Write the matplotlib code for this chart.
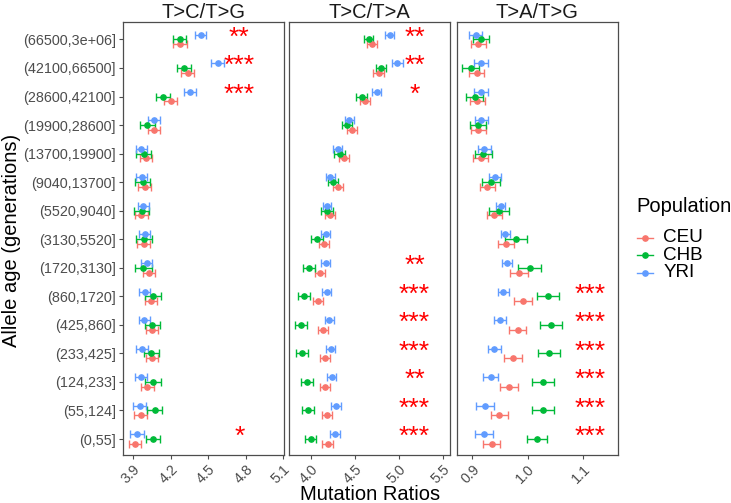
import matplotlib
matplotlib.use("Agg")
import matplotlib.pyplot as plt
from matplotlib.lines import Line2D
import numpy as np

plt.rcParams["font.family"] = ["Liberation Sans", "DejaVu Sans"]

# allele age bins, bottom to top
age_bins = ["(0,55]", "(55,124]", "(124,233]", "(233,425]", "(425,860]",
            "(860,1720]", "(1720,3130]", "(3130,5520]", "(5520,9040]",
            "(9040,13700]", "(13700,19900]", "(19900,28600]", "(28600,42100]",
            "(42100,66500]", "(66500,3e+06]"]

populations = ["CEU", "CHB", "YRI"]
pop_colors = {"CEU": "#F8766D", "CHB": "#00BA38", "YRI": "#619CFF"}

panel_titles = ["T>C/T>G", "T>C/T>A", "T>A/T>G"]

# T>C/T>G
tctg_ceu = [3.916, 3.961, 4.014, 4.052, 4.052, 4.046, 4.028, 3.985, 3.966, 3.993, 4.004, 4.068, 4.201, 4.337, 4.273]
tctg_chb = [4.060, 4.073, 4.060, 4.046, 4.052, 4.062, 3.982, 3.988, 3.969, 3.977, 3.985, 4.014, 4.142, 4.308, 4.273]
tctg_yri = [3.932, 3.953, 3.961, 3.969, 3.990, 3.993, 4.009, 3.993, 3.980, 3.969, 3.966, 4.068, 4.356, 4.577, 4.441]
tctg_ceu_err = [0.049, 0.050, 0.050, 0.050, 0.050, 0.047, 0.050, 0.050, 0.050, 0.050, 0.050, 0.050, 0.052, 0.052, 0.055]
tctg_chb_err = [0.057, 0.060, 0.065, 0.062, 0.060, 0.064, 0.067, 0.062, 0.062, 0.060, 0.060, 0.060, 0.055, 0.053, 0.053]
tctg_yri_err = [0.053, 0.050, 0.048, 0.048, 0.045, 0.045, 0.045, 0.044, 0.044, 0.044, 0.044, 0.045, 0.045, 0.050, 0.044]

# T>C/T>A
tcta_ceu = [4.189, 4.178, 4.163, 4.163, 4.133, 4.083, 4.099, 4.144, 4.220, 4.310, 4.375, 4.466, 4.617, 4.769, 4.697]
tcta_chb = [3.997, 3.966, 3.955, 3.901, 3.886, 3.917, 3.974, 4.072, 4.182, 4.250, 4.326, 4.413, 4.576, 4.799, 4.656]
tcta_yri = [4.273, 4.288, 4.235, 4.224, 4.208, 4.178, 4.167, 4.167, 4.182, 4.220, 4.303, 4.436, 4.746, 4.985, 4.894]
tcta_ceu_err = [0.058, 0.058, 0.058, 0.058, 0.058, 0.058, 0.059, 0.058, 0.058, 0.058, 0.058, 0.058, 0.058, 0.058, 0.058]
tcta_chb_err = [0.065, 0.068, 0.068, 0.068, 0.068, 0.068, 0.070, 0.068, 0.065, 0.062, 0.060, 0.058, 0.058, 0.055, 0.053]
tcta_yri_err = [0.055, 0.055, 0.055, 0.050, 0.050, 0.050, 0.050, 0.050, 0.050, 0.050, 0.050, 0.050, 0.055, 0.060, 0.055]

# T>A/T>G
tatg_ceu = [0.935, 0.949, 0.966, 0.974, 0.982, 0.992, 0.985, 0.961, 0.940, 0.927, 0.915, 0.911, 0.909, 0.908, 0.911]
tatg_chb = [1.017, 1.028, 1.028, 1.038, 1.043, 1.037, 1.004, 0.979, 0.949, 0.934, 0.920, 0.910, 0.904, 0.897, 0.916]
tatg_yri = [0.921, 0.923, 0.933, 0.940, 0.950, 0.956, 0.963, 0.960, 0.951, 0.941, 0.922, 0.916, 0.916, 0.916, 0.906]
tatg_ceu_err = [0.015, 0.015, 0.016, 0.016, 0.016, 0.016, 0.016, 0.015, 0.014, 0.014, 0.014, 0.014, 0.014, 0.014, 0.014]
tatg_chb_err = [0.0175, 0.020, 0.020, 0.020, 0.020, 0.0205, 0.021, 0.020, 0.018, 0.016, 0.015, 0.015, 0.015, 0.015, 0.0145]
tatg_yri_err = [0.016, 0.016, 0.013, 0.011, 0.011, 0.010, 0.009, 0.009, 0.009, 0.010, 0.011, 0.012, 0.013, 0.013, 0.012]

# significance labels, bottom to top
tctg_stars = ["*", "", "", "", "", "", "", "", "", "", "", "", "***", "***", "**"]
tcta_stars = ["***", "***", "**", "***", "***", "***", "**", "", "", "", "", "", "*", "**", "**"]
tatg_stars = ["***", "***", "***", "***", "***", "***", "", "", "", "", "", "", "", "", ""]

panels = [
    {"vals": [tctg_ceu, tctg_chb, tctg_yri], "errs": [tctg_ceu_err, tctg_chb_err, tctg_yri_err],
     "stars": tctg_stars, "star_x": 4.75, "xlim": (3.82, 5.105), "ticks": [3.9, 4.2, 4.5, 4.8, 5.1]},
    {"vals": [tcta_ceu, tcta_chb, tcta_yri], "errs": [tcta_ceu_err, tcta_chb_err, tcta_yri_err],
     "stars": tcta_stars, "star_x": 5.18, "xlim": (3.753, 5.584), "ticks": [4.0, 4.5, 5.0, 5.5]},
    {"vals": [tatg_ceu, tatg_chb, tatg_yri], "errs": [tatg_ceu_err, tatg_chb_err, tatg_yri_err],
     "stars": tatg_stars, "star_x": 1.114, "xlim": (0.8717, 1.1627), "ticks": [0.9, 1.0, 1.1]},
]

W, H = 731, 503
fig = plt.figure(figsize=(W / 100, H / 100), dpi=100)

panel_left = [123, 289.3, 456.7]
panel_w = 160.8
top_px, bot_px = 22.3, 455
dodge = [-0.167, 0.0, 0.167]
grey = "#4D4D4D"
y = np.arange(1, len(age_bins) + 1)

axes = []
for i, p in enumerate(panels):
    ax = fig.add_axes([panel_left[i] / W, (H - bot_px) / H, panel_w / W, (bot_px - top_px) / H])
    axes.append(ax)
    for j, pop in enumerate(populations):
        ax.errorbar(p["vals"][j], y + dodge[j], xerr=p["errs"][j], fmt="o",
                    color=pop_colors[pop], ms=3.8, elinewidth=1.0, capsize=3,
                    capthick=1.0, zorder=3)
    for k, s in enumerate(p["stars"]):
        if s:
            ax.text(p["star_x"], y[k] + 0.06, s, color="#FF0000", fontsize=19,
                    ha="center", va="center", zorder=4)
    ax.set_xlim(*p["xlim"])
    ax.set_ylim(0.44, 15.6)
    ax.set_xticks(p["ticks"])
    ax.set_xticklabels([f"{t:.1f}" for t in p["ticks"]], rotation=45, ha="right",
                       va="top", rotation_mode="anchor", fontsize=10.4, color=grey)
    ax.set_yticks(y)
    if i == 0:
        ax.set_yticklabels(age_bins, fontsize=10.4, color=grey)
        ax.tick_params(axis="y", length=3, color=grey, width=0.8, pad=2)
    else:
        ax.set_yticklabels([])
        ax.tick_params(axis="y", length=0)
    ax.tick_params(axis="x", length=3, color=grey, width=0.8, pad=2)
    for sp in ax.spines.values():
        sp.set_color(grey)
        sp.set_linewidth(0.9)
    ax.set_title(panel_titles[i], fontsize=14.5, color="#1A1A1A", pad=3)

fig.text(370 / W, 1 - 495 / H, "Mutation Ratios", fontsize=14.5, ha="center", va="center")
fig.text(12 / W, 1 - 240 / H, "Allele age (generations)", fontsize=14.5, rotation=90,
         ha="center", va="center")

# legend drawn by hand to match the ggplot spacing
fig.text(636 / W, 1 - 207 / H, "Population", fontsize=14.5, ha="left", va="center")
legend_y = [238, 255.3, 272.6]
for pop, ly in zip(populations, legend_y):
    yy = 1 - ly / H
    fig.add_artist(Line2D([636.5 / W, 652.5 / W], [yy, yy], color=pop_colors[pop], lw=1.0))
    fig.add_artist(Line2D([644.5 / W], [yy], color=pop_colors[pop], marker="o", ms=3.8, lw=0))
    fig.text(663.5 / W, yy, pop, fontsize=13.6, ha="left", va="center")

fig.savefig("out.png", dpi=100)
